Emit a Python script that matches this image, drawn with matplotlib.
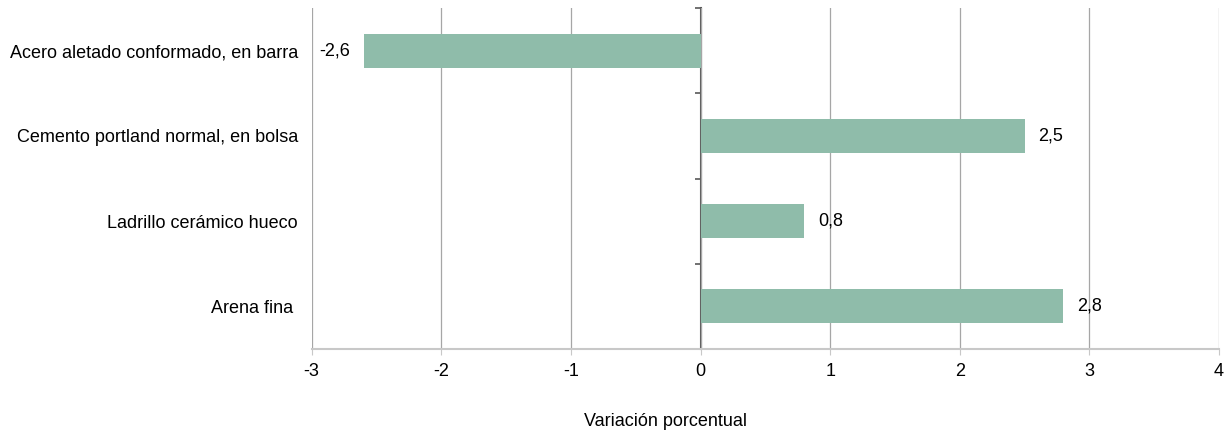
import matplotlib
matplotlib.use("Agg")
import matplotlib.pyplot as plt

categories = ["Acero aletado conformado, en barra",
              "Cemento portland normal, en bolsa",
              "Ladrillo cerámico hueco",
              "Arena fina "]
values = [-2.6, 2.5, 0.8, 2.8]
xticks = [-3, -2, -1, 0, 1, 2, 3, 4]
xlabel = "Variación porcentual"

plt.rcParams['font.family'] = ['Liberation Sans', 'DejaVu Sans']
FS = 13

fig = plt.figure(figsize=(12.28, 4.32), dpi=100)
ax = fig.add_axes([0.2538, 0.1921, 0.9927 - 0.2538, 0.9815 - 0.1921])

ypos = list(range(len(categories)))
bars = ax.barh(ypos, values, height=0.4, color="#8fbcaa", zorder=3)
ax.set_ylim(len(categories) - 0.5, -0.5)
ax.set_xlim(-3, 4)
ax.set_xticks(xticks)
ax.set_xticklabels([str(t) for t in xticks], fontsize=FS)
ax.set_yticks(ypos)
ax.set_yticklabels(categories, fontsize=FS)
ax.tick_params(axis='y', length=0, pad=10)
ax.tick_params(axis='x', length=4, color="#c8c8c8", pad=6)

ax.grid(axis='x', color="#a6a6a6", linewidth=0.9, zorder=0)
for s in ['left', 'right', 'top']:
    ax.spines[s].set_visible(False)
ax.spines['bottom'].set_color("#c8c8c8")
ax.spines['bottom'].set_linewidth(1.5)

# zero axis with category-boundary ticks
sec = ax.secondary_yaxis((0 - (-3)) / 7)
sec.set_yticks([i - 0.5 for i in range(len(categories) + 1)])
sec.set_yticklabels([])
sec.tick_params(length=4, width=1.2, color="#595959")
sec.spines['left'].set_color("#595959")
sec.spines['left'].set_linewidth(1.5)
sec.spines['left'].set_zorder(4)

labels = [f"{v:.1f}".replace('.', ',') for v in values]
ax.bar_label(bars, labels=labels, padding=10, fontsize=FS)

fig.text(666 / 1228, 1 - 421 / 432, xlabel, ha='center', va='center', fontsize=FS)

fig.savefig("out.png", dpi=100)
